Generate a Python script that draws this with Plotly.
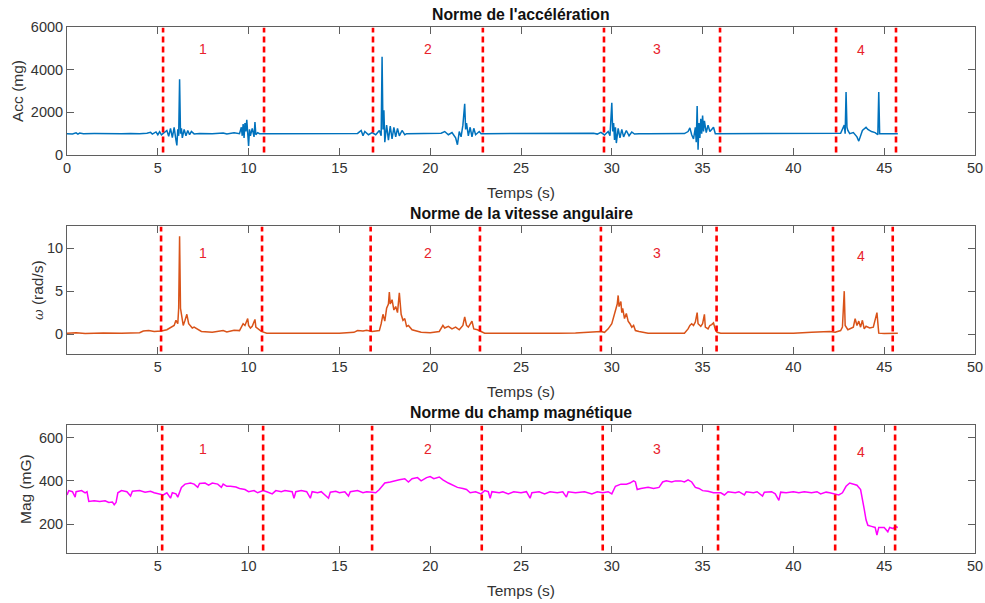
import plotly.graph_objects as go

# ---------------- data ----------------
acc_t = [0.0,0.3,0.5,0.6,0.7,0.9,1.5,2.0,2.5,3.0,3.5,4.0,4.4,4.6,4.7,4.9,5.0,5.1,5.2,5.35,5.5,5.6,5.7,5.8,5.9,6.0,6.05,6.1,6.15,6.2,6.25,6.3,6.35,6.45,6.55,6.65,6.75,6.85,7.0,7.3,8.0,8.6,8.8,9.2,9.5,9.6,9.65,9.7,9.75,9.8,9.85,9.9,9.95,10.0,10.05,10.1,10.2,10.3,10.35,10.4,10.5,10.6,11.0,12.0,13.0,14.0,15.0,16.0,16.2,16.3,16.4,16.6,16.8,17.0,17.2,17.3,17.35,17.4,17.45,17.5,17.6,17.7,17.8,17.9,18.0,18.1,18.2,18.3,18.45,18.6,18.7,19.0,20.0,20.6,20.8,21.0,21.2,21.4,21.5,21.6,21.7,21.8,21.9,21.95,22.0,22.1,22.2,22.3,22.4,22.5,22.7,22.8,23.0,24.0,25.0,26.0,27.0,28.0,29.0,29.2,29.4,29.6,29.8,29.9,30.0,30.05,30.1,30.15,30.2,30.25,30.35,30.45,30.55,30.65,30.8,30.95,31.1,31.25,31.5,32.0,33.0,34.0,34.2,34.3,34.4,34.5,34.6,34.65,34.7,34.75,34.8,34.85,34.9,34.95,35.0,35.05,35.1,35.2,35.3,35.4,35.5,35.6,35.7,35.9,37.0,38.0,39.0,40.0,41.0,42.0,42.6,42.8,42.85,42.9,42.95,43.0,43.1,43.3,43.5,43.6,43.7,43.8,44.0,44.1,44.3,44.5,44.65,44.7,44.75,44.9,45.3,45.75]
acc_v = [1000,990,1040,980,1030,1000,1005,995,1005,1000,1010,995,1020,1060,980,1080,950,1090,940,1050,1150,880,1250,820,1300,700,450,1200,900,3550,1000,1250,800,1200,900,1150,950,1100,990,1010,1000,1030,980,1040,1000,1300,900,1450,800,1500,1100,1650,700,420,1200,900,1250,850,1550,950,1050,1000,1000,1005,995,1005,1000,1010,1150,900,1100,950,1050,950,1150,900,4600,1200,2100,600,1400,700,1350,750,1300,850,1250,900,1150,950,1000,1000,1000,1020,1100,950,1050,800,480,1100,850,1400,2400,1200,1500,900,1300,850,1250,950,1100,1000,1000,1005,995,1000,1005,1000,1020,980,1060,940,1100,900,2450,1100,1500,700,1300,560,1250,800,1200,850,1150,900,1080,980,1000,1000,1000,1005,1100,1270,950,750,1300,600,2300,250,1500,800,1700,1000,1850,1100,1600,1050,1400,1100,1200,1300,1000,1000,1000,1005,995,1000,1010,1000,1020,1400,1000,2950,1300,1150,1000,1050,850,650,900,1150,1300,1200,1100,1050,950,2950,1000,1000,1000,1000]

gyr_t = [0.0,0.5,1.0,1.5,2.0,3.0,4.0,4.2,4.5,4.8,5.2,5.5,5.7,5.9,6.0,6.1,6.15,6.2,6.25,6.3,6.4,6.5,6.6,6.7,6.8,6.9,7.0,7.2,7.4,8.0,8.6,8.8,9.2,9.5,9.6,9.7,9.8,9.9,9.95,10.0,10.1,10.2,10.35,10.4,10.5,10.7,11.0,12.0,13.0,14.0,15.0,15.8,16.0,16.3,16.5,16.8,17.2,17.3,17.4,17.5,17.6,17.7,17.75,17.8,17.9,18.0,18.1,18.2,18.3,18.4,18.5,18.6,18.7,18.8,19.0,19.5,20.0,20.5,20.7,20.8,21.0,21.2,21.4,21.6,21.8,21.9,22.0,22.1,22.2,22.3,22.4,22.6,22.8,23.0,24.0,25.0,26.0,27.0,28.0,29.0,29.4,29.6,29.8,30.0,30.1,30.2,30.3,30.35,30.4,30.5,30.55,30.6,30.7,30.8,30.9,31.0,31.1,31.2,31.3,31.5,32.0,33.0,34.0,34.2,34.3,34.4,34.5,34.6,34.7,34.75,34.9,35.0,35.1,35.15,35.3,35.4,35.5,35.6,35.7,35.8,36.0,37.0,38.0,39.0,40.0,41.0,41.5,42.0,42.3,42.6,42.7,42.8,42.85,43.0,43.3,43.4,43.5,43.6,43.7,43.8,43.9,44.0,44.2,44.4,44.6,44.65,44.7,45.0,45.4,45.75]
gyr_v = [0.1,0.15,0.05,0.1,0.12,0.08,0.15,0.35,0.4,0.3,0.35,0.5,0.8,1.0,1.6,1.2,3.0,11.4,3.0,2.2,1.0,1.6,2.3,1.2,0.9,0.7,0.8,0.5,0.3,0.2,0.4,0.25,0.45,0.4,0.8,1.2,1.0,1.6,1.8,1.0,0.7,0.9,1.7,0.8,0.6,0.3,0.1,0.1,0.08,0.1,0.1,0.2,0.4,0.35,0.45,0.3,0.4,1.2,2.3,1.5,3.0,3.5,4.9,3.5,4.0,2.8,3.2,2.5,4.8,2.3,1.6,1.8,0.9,1.0,0.5,0.2,0.15,0.3,1.0,0.7,0.9,0.6,0.8,0.5,1.0,2.0,1.0,0.8,1.2,1.5,0.6,0.5,0.3,0.1,0.1,0.08,0.1,0.1,0.12,0.25,0.3,0.2,0.6,1.2,2.0,2.5,3.5,4.5,3.2,3.8,2.5,3.0,1.8,2.4,1.5,1.2,0.8,1.0,0.4,0.3,0.1,0.1,0.1,0.6,1.0,1.2,1.0,1.4,2.5,1.2,0.9,1.2,2.3,0.8,0.6,1.0,1.1,1.3,0.5,0.2,0.1,0.1,0.1,0.08,0.1,0.2,0.25,0.3,0.2,0.4,0.8,5.0,1.0,0.5,0.8,1.8,1.0,1.5,0.8,1.6,0.6,0.9,0.7,0.8,2.5,0.5,0.1,0.05,0.05,0.08]

mag_t = [0.0,0.1,0.3,0.45,0.5,0.8,1.0,1.1,1.2,1.5,1.8,2.1,2.3,2.5,2.6,2.7,2.8,3.0,3.3,3.5,3.6,4.0,4.3,4.6,4.8,5.0,5.3,5.5,5.7,5.8,6.0,6.1,6.3,6.5,6.8,7.0,7.2,7.3,7.6,7.8,8.0,8.3,8.5,8.6,8.8,9.0,9.3,9.5,9.8,10.0,10.3,10.5,10.8,11.0,11.3,11.5,11.8,12.0,12.4,12.5,12.6,12.9,13.2,13.4,13.5,13.8,14.0,14.4,14.5,14.8,15.0,15.3,15.5,15.6,16.0,16.3,16.5,16.8,17.0,17.2,17.5,17.8,18.0,18.3,18.6,18.8,19.0,19.3,19.5,19.8,20.0,20.2,20.5,20.7,21.0,21.3,21.5,21.8,22.0,22.2,22.5,22.8,23.0,23.2,23.3,23.4,23.8,24.0,24.3,24.6,25.0,25.3,25.5,25.6,26.0,26.3,26.6,27.0,27.3,27.5,27.6,28.0,28.5,28.9,29.2,29.5,29.8,30.0,30.2,30.5,30.8,31.0,31.2,31.3,31.4,31.6,32.0,32.3,32.6,32.8,33.0,33.3,33.5,33.8,34.0,34.2,34.4,34.6,34.8,35.0,35.3,35.6,36.0,36.2,36.4,36.8,37.0,37.3,37.4,37.8,38.0,38.3,38.4,38.8,39.0,39.2,39.3,39.6,40.0,40.3,40.6,41.0,41.3,41.5,41.8,42.0,42.3,42.5,42.7,42.9,43.1,43.3,43.5,43.7,43.8,43.9,44.0,44.1,44.3,44.5,44.6,44.7,45.0,45.2,45.3,45.5,45.6,45.75]
mag_v = [335,355,350,325,350,355,345,350,305,308,305,308,300,302,290,300,345,355,350,330,352,355,348,352,345,340,335,345,320,345,340,325,370,385,390,385,370,388,390,380,390,385,370,385,375,375,372,365,360,350,355,345,355,350,340,355,350,355,350,320,350,355,350,320,350,345,350,320,348,352,345,350,330,350,355,345,350,348,345,360,390,395,400,405,410,395,410,415,400,415,420,410,418,405,390,380,370,365,360,345,350,340,355,350,320,350,345,350,340,350,345,350,320,345,350,340,350,345,350,325,350,345,350,340,350,345,350,340,375,385,385,390,400,395,360,365,370,365,370,395,400,395,400,400,395,405,395,370,365,355,352,345,345,335,350,345,350,335,350,345,350,330,348,350,340,310,348,345,350,345,350,345,350,340,348,345,340,335,345,375,390,385,380,360,320,270,220,195,190,185,150,185,185,165,185,180,190,185]

# segment boundaries (s) as drawn on each panel
bounds_acc = [5.29, 10.85, 16.85, 22.9, 29.57, 35.96, 42.35, 45.65]
bounds_gyr = [5.18, 10.74, 16.72, 22.74, 29.4, 35.77, 42.18, 45.47]
bounds_mag = [5.24, 10.8, 16.8, 22.84, 29.5, 35.85, 42.3, 45.6]

seg_labels = ["1", "2", "3", "4"]
label_t = [7.5, 19.9, 32.5, 43.7]
label_y_acc = [4970, 4970, 4970, 4900]
label_y_gyr = [9.4, 9.4, 9.4, 9.1]
label_y_mag = [548, 548, 548, 535]

titles = ["Norme de l'accélération", "Norme de la vitesse angulaire", "Norme du champ magnétique"]
ylabels = ["Acc (mg)",
           "<span style='font-family:DejaVu Serif;font-style:italic;font-size:13px'>ω</span> (rad/s)",
           "Mag (mG)"]
xlabel = "Temps (s)"

# ---------------- figure ----------------
W, H = 985, 603
FONT = "Liberation Sans, Arial, sans-serif"
AX = "#5f5f5f"
TXT = "#333333"

panels = [
    dict(t=acc_t, v=acc_v, color="#0072BD", bounds=bounds_acc, ly=label_y_acc,
         yr=[0, 6000], yt=[0, 2000, 4000, 6000], xt=[0, 5, 10, 15, 20, 25, 30, 35, 40, 45, 50],
         top=27, bot=155, ylab_x=17),
    dict(t=gyr_t, v=gyr_v, color="#D95319", bounds=bounds_gyr, ly=label_y_gyr,
         yr=[-2.33, 12.6], yt=[0, 5, 10], xt=[5, 10, 15, 20, 25, 30, 35, 40, 45, 50],
         top=226, bot=354, ylab_x=37),
    dict(t=mag_t, v=mag_v, color="#FF00FF", bounds=bounds_mag, ly=label_y_mag,
         yr=[67, 658], yt=[200, 400, 600], xt=[5, 10, 15, 20, 25, 30, 35, 40, 45, 50],
         top=425, bot=553, ylab_x=25),
]

fig = go.Figure()
layout = dict(width=W, height=H, margin=dict(l=0, r=0, t=0, b=0),
              paper_bgcolor="white", plot_bgcolor="white", showlegend=False,
              font=dict(family=FONT, size=14, color=TXT))
shapes, annotations = [], []
L, R = 67, 975
xd = [L / W, R / W]

for i, p in enumerate(panels, start=1):
    xa = "x" if i == 1 else f"x{i}"
    ya = "y" if i == 1 else f"y{i}"
    fig.add_trace(go.Scatter(x=p["t"], y=p["v"], mode="lines",
                             line=dict(color=p["color"], width=1.5),
                             xaxis=xa, yaxis=ya, hoverinfo="skip"))
    common = dict(showline=True, linecolor=AX, linewidth=1, mirror="allticks",
                  ticks="inside", ticklen=7, tickcolor=AX, showgrid=False,
                  zeroline=False, automargin=False,
                  tickfont=dict(family=FONT, size=14.5, color=TXT))
    layout["xaxis" if i == 1 else f"xaxis{i}"] = dict(
        domain=xd, range=[0, 50], tickvals=p["xt"], anchor=ya, **common)
    layout["yaxis" if i == 1 else f"yaxis{i}"] = dict(
        domain=[1 - p["bot"] / H, 1 - p["top"] / H], range=p["yr"],
        tickvals=p["yt"], anchor=xa, **common)
    for b in p["bounds"]:
        shapes.append(dict(type="line", xref=xa, yref=f"{ya} domain",
                           x0=b, x1=b, y0=0.02, y1=0.995,
                           line=dict(color="#FF0000", width=2.6, dash="6px,4px")))
    for lab, lt, ly in zip(seg_labels, label_t, p["ly"]):
        annotations.append(dict(text=lab, x=lt, y=ly, xref=xa, yref=ya,
                                xanchor="center", yanchor="middle",
                                showarrow=False, font=dict(size=14, color="#E8222B")))
    annotations.append(dict(text=f"<b>{titles[i-1]}</b>", xref=f"{xa} domain", yref=f"{ya} domain",
                            x=0.5, y=1, yshift=13, xanchor="center", yanchor="middle",
                            showarrow=False, font=dict(size=15.8, color="#111111")))
    annotations.append(dict(text=xlabel, xref=f"{xa} domain", yref=f"{ya} domain",
                            x=0.5, y=0, yshift=-37, xanchor="center", yanchor="middle",
                            showarrow=False, font=dict(size=15.5, color=TXT)))
    annotations.append(dict(text=ylabels[i-1], xref="paper", yref=f"{ya} domain",
                            x=p["ylab_x"] / W, y=0.5, xanchor="center", yanchor="middle",
                            textangle=-90, showarrow=False,
                            font=dict(size=15.5, color=TXT)))

layout["shapes"] = shapes
layout["annotations"] = annotations
fig.update_layout(**layout)
fig.write_html("out.html", config={"displayModeBar": False},
               post_script="document.body.style.margin='0';document.body.style.overflow='hidden';")
